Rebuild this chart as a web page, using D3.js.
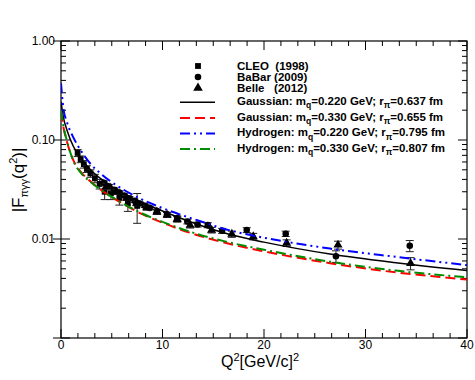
<!DOCTYPE html>
<html>
<head>
<meta charset="utf-8">
<script src="https://cdn.jsdelivr.net/npm/d3@7"></script>
<style>
  body { margin: 0; background: #fff; }
  text { font-family: "Liberation Sans", Arial, Helvetica, sans-serif; }
</style>
</head>
<body>
<div id="chart"></div>
<script>
// data
const xTicks = [0, 10, 20, 30, 40];
const yTicks = [1, 0.1, 0.01];
const yTickLabels = ["1.00", "0.10", "0.01"];

// model curves, |F| against Q^2
const curveQ2 = [0, 0.23, 0.6, 1.2, 2, 3, 4, 5, 6, 8, 10, 13, 16.65, 20, 26.5, 33, 40];
const gauss220 = [0.244, 0.17, 0.125, 0.087, 0.064, 0.049, 0.040, 0.0338, 0.0293, 0.0234, 0.0192, 0.0146, 0.0111, 0.0093, 0.00705, 0.00576, 0.0048];
const gauss330 = [0.193, 0.136, 0.095, 0.063, 0.047, 0.0375, 0.031, 0.0265, 0.023, 0.0178, 0.0146, 0.0113, 0.0089, 0.0075, 0.0057, 0.0046, 0.0039];
const hydro220 = [0.376, 0.21, 0.15, 0.107, 0.077, 0.056, 0.045, 0.0375, 0.0322, 0.025, 0.0205, 0.016, 0.0122, 0.0103, 0.0080, 0.0066, 0.00545];
const hydro330 = [0.20, 0.14, 0.097, 0.062, 0.046, 0.037, 0.031, 0.0266, 0.0232, 0.0181, 0.0149, 0.0116, 0.0092, 0.0078, 0.0059, 0.0048, 0.0041];

const cleoQ2 = [1.64, 1.94, 2.25, 2.55, 2.90, 3.34, 3.81, 4.30, 4.92, 5.75, 6.59, 7.50];
const cleoF = [0.074, 0.064, 0.057, 0.051, 0.046, 0.041, 0.036, 0.030, 0.029, 0.026, 0.023, 0.0216];
const cleoErr = [0.006, 0.005, 0.005, 0.004, 0.004, 0.004, 0.004, 0.005, 0.004, 0.004, 0.004, 0.0072];

const babarQ2 = [4.24, 4.74, 5.24, 5.74, 6.24, 6.74, 7.24, 7.74, 8.24, 8.74, 9.45, 10.45, 11.45, 12.45, 13.45, 14.46, 15.87, 18.30, 22.14, 27.09, 34.36];
const babarF = [0.0370, 0.0340, 0.0315, 0.0295, 0.0275, 0.0258, 0.0243, 0.0228, 0.0217, 0.0206, 0.0192, 0.0178, 0.0163, 0.0150, 0.0140, 0.0138, 0.0121, 0.0123, 0.0113, 0.0067, 0.00855];
const babarErr = [0.0015, 0.0014, 0.0013, 0.0012, 0.0011, 0.0011, 0.0010, 0.0010, 0.0009, 0.0009, 0.0008, 0.0008, 0.0008, 0.0008, 0.0008, 0.0008, 0.0007, 0.0007, 0.0007, 0.0009, 0.0011];

const belleQ2 = [4.46, 5.47, 6.47, 7.45, 8.45, 9.45, 10.46, 11.45, 12.72, 14.84, 16.83, 18.94, 22.23, 27.29, 34.44];
const belleF = [0.034, 0.030, 0.026, 0.023, 0.0208, 0.0188, 0.0175, 0.0158, 0.0138, 0.0123, 0.0112, 0.0106, 0.0091, 0.0087, 0.00568];
const belleErr = [0.0025, 0.0018, 0.0015, 0.0013, 0.0012, 0.0011, 0.0010, 0.0010, 0.0009, 0.0008, 0.0008, 0.0008, 0.0007, 0.0008, 0.0008];

const W = 475, H = 380;
const pl = 61, pr = 467, pt = 41, pb = 338;

const svg = d3.select("#chart").append("svg")
    .attr("width", W)
    .attr("height", H);

const x = d3.scaleLinear().domain([0, 40]).range([pl, pr]);
const y = d3.scaleLog().domain([0.001, 1]).range([pb, pt]);

svg.append("defs").append("clipPath").attr("id", "clip")
    .append("rect")
    .attr("x", pl).attr("y", pt)
    .attr("width", pr - pl).attr("height", pb - pt);

// ticks
const minorX = d3.range(0, 41, 10 / 6);
const minorY = [];
[0.001, 0.01, 0.1].forEach(d => { for (let k = 2; k < 10; k++) minorY.push(d * k); });

const tk = svg.append("g").attr("stroke", "#000").attr("stroke-width", 1);
minorX.forEach(v => {
    const major = Math.abs(v / 10 - Math.round(v / 10)) < 1e-6;
    const len = major ? 9 : 5;
    tk.append("line").attr("x1", x(v)).attr("x2", x(v)).attr("y1", pb).attr("y2", pb - len);
    tk.append("line").attr("x1", x(v)).attr("x2", x(v)).attr("y1", pt).attr("y2", pt + len);
});
minorY.forEach(v => {
    tk.append("line").attr("x1", pl).attr("x2", pl + 5).attr("y1", y(v)).attr("y2", y(v));
    tk.append("line").attr("x1", pr).attr("x2", pr - 5).attr("y1", y(v)).attr("y2", y(v));
});
[1, 0.1, 0.01, 0.001].forEach(v => {
    tk.append("line").attr("x1", pl - 8).attr("x2", pl + 9).attr("y1", y(v)).attr("y2", y(v));
    tk.append("line").attr("x1", pr).attr("x2", pr - 9).attr("y1", y(v)).attr("y2", y(v));
});

// frame
svg.append("rect")
    .attr("x", pl).attr("y", pt)
    .attr("width", pr - pl).attr("height", pb - pt)
    .attr("fill", "none").attr("stroke", "#000").attr("stroke-width", 1.2);

// tick labels
xTicks.forEach(v => {
    svg.append("text")
        .attr("x", x(v)).attr("y", 349)
        .attr("text-anchor", "middle")
        .attr("font-size", 12)
        .text(v);
});
yTicks.forEach((v, i) => {
    svg.append("text")
        .attr("x", 55).attr("y", y(v) + 4.3)
        .attr("text-anchor", "end")
        .attr("font-size", 12)
        .text(yTickLabels[i]);
});

// axis titles
const xt = svg.append("text")
    .attr("x", 260).attr("y", 367)
    .attr("text-anchor", "middle")
    .attr("font-size", 16);
xt.append("tspan").text("Q");
xt.append("tspan").attr("dy", -6).attr("font-size", 11).text("2");
xt.append("tspan").attr("dy", 6).text("[GeV/c]");
xt.append("tspan").attr("dy", -6).attr("font-size", 11).text("2");

const yt = svg.append("text")
    .attr("transform", "translate(24,180) rotate(-90)")
    .attr("text-anchor", "middle")
    .attr("font-size", 17);
yt.append("tspan").text("|F");
yt.append("tspan").attr("dy", 4).attr("font-size", 11).text("πγγ");
yt.append("tspan").attr("dy", -4).text("(q");
yt.append("tspan").attr("dy", -7).attr("font-size", 11).text("2");
yt.append("tspan").attr("dy", 7).text(")|");

// data with error bars
const plot = svg.append("g").attr("clip-path", "url(#clip)");

function drawSet(qs, fs, errs, shape) {
    qs.forEach((q, i) => {
        const cx = x(q), cy = y(fs[i]);
        const y1 = y(fs[i] + errs[i]), y2 = y(Math.max(fs[i] - errs[i], 1e-4));
        const g = plot.append("g").attr("stroke", "#222").attr("stroke-width", 1);
        g.append("line").attr("x1", cx).attr("x2", cx).attr("y1", y1).attr("y2", y2);
        g.append("line").attr("x1", cx - 4).attr("x2", cx + 4).attr("y1", y1).attr("y2", y1);
        g.append("line").attr("x1", cx - 4).attr("x2", cx + 4).attr("y1", y2).attr("y2", y2);
        plot.append("path")
            .attr("d", d3.symbol().type(shape).size(shape === d3.symbolTriangle ? 36 : 34)())
            .attr("transform", `translate(${cx},${cy})`)
            .attr("fill", "#000");
    });
}
drawSet(cleoQ2, cleoF, cleoErr, d3.symbolSquare);
drawSet(babarQ2, babarF, babarErr, d3.symbolCircle);
drawSet(belleQ2, belleF, belleErr, d3.symbolTriangle);

// model curves
const line = d3.line()
    .x(d => x(d[0]))
    .y(d => y(d[1]))
    .curve(d3.curveMonotoneX);

const models = [
    { vals: gauss220, color: "#000", width: 1.5, dash: null },
    { vals: gauss330, color: "#ff0000", width: 2, dash: "10,5" },
    { vals: hydro330, color: "#008c00", width: 2, dash: "10,4,2,4" },
    { vals: hydro220, color: "#0000ff", width: 2, dash: "10,4,2,4,2,4" }
];
models.forEach(m => {
    plot.append("path")
        .datum(curveQ2.map((q, i) => [q, m.vals[i]]))
        .attr("d", line)
        .attr("fill", "none")
        .attr("stroke", m.color)
        .attr("stroke-width", m.width)
        .attr("stroke-dasharray", m.dash);
});

// legend
const lg = svg.append("g").attr("font-size", 11.5).attr("font-weight", "bold");
const symRows = [
    { shape: d3.symbolSquare, label: "CLEO  (1998)", base: 69.5 },
    { shape: d3.symbolCircle, label: "BaBar (2009)", base: 80.5 },
    { shape: d3.symbolTriangle, label: "Belle   (2012)", base: 91.5 }
];
symRows.forEach(r => {
    lg.append("path")
        .attr("d", d3.symbol().type(r.shape).size(r.shape === d3.symbolTriangle ? 40 : 34)())
        .attr("transform", `translate(198,${r.base - 3.5})`)
        .attr("fill", "#000");
    lg.append("text").attr("x", 237).attr("y", r.base)
        .style("white-space", "pre").text(r.label);
});

const lineRows = [
    { m: models[0], name: "Gaussian", mq: "0.220", r: "0.637", base: 104.7 },
    { m: models[1], name: "Gaussian", mq: "0.330", r: "0.655", base: 120.5 },
    { m: models[3], name: "Hydrogen", mq: "0.220", r: "0.795", base: 136 },
    { m: models[2], name: "Hydrogen", mq: "0.330", r: "0.807", base: 151.5 }
];
lineRows.forEach(r => {
    lg.append("line")
        .attr("x1", 180).attr("x2", 215)
        .attr("y1", r.base - 2.5).attr("y2", r.base - 2.5)
        .attr("stroke", r.m.color)
        .attr("stroke-width", r.m.width)
        .attr("stroke-dasharray", r.m.dash);
    const t = lg.append("text").attr("x", 237).attr("y", r.base);
    t.append("tspan").text(r.name + ": m");
    t.append("tspan").attr("dy", 3.5).attr("font-size", 8.5).text("q");
    t.append("tspan").attr("dy", -3.5).text("=" + r.mq + " GeV; r");
    t.append("tspan").attr("dy", 3.5).attr("font-size", 8.5).text("π");
    t.append("tspan").attr("dy", -3.5).text("=" + r.r + " fm");
});
</script>
</body>
</html>
